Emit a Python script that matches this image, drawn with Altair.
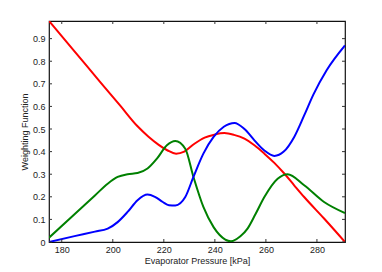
import altair as alt
import pandas as pd

# Data
red_x = [175, 185, 195, 203, 209.7, 214, 218, 221.5, 224.8, 228, 232, 236, 239.8, 243.7, 247.5, 251.6, 255.5, 259.4, 263.3, 267.2, 271, 275, 282.8, 291]
red_y = [0.978, 0.844, 0.709, 0.602, 0.512, 0.466, 0.430, 0.405, 0.391, 0.400, 0.435, 0.462, 0.475, 0.482, 0.474, 0.457, 0.428, 0.391, 0.350, 0.303, 0.252, 0.199, 0.104, 0.0]

green_x = [175, 185, 193, 198, 201.9, 205.8, 209.7, 213.6, 217.3, 221.2, 224.5, 228.4, 231.6, 235.5, 239.5, 241.8, 246.3, 250, 252.8, 256, 259.4, 264.6, 268.5, 275, 282.8, 291]
green_y = [0.019, 0.123, 0.206, 0.258, 0.288, 0.300, 0.305, 0.325, 0.369, 0.428, 0.447, 0.413, 0.288, 0.155, 0.066, 0.032, 0.003, 0.025, 0.059, 0.125, 0.199, 0.280, 0.300, 0.251, 0.177, 0.128]

blue_x = [175, 185, 193, 198, 201.9, 205.8, 209.7, 213.6, 216.5, 219.6, 222, 224.5, 228.4, 231.6, 235.5, 239.5, 243.5, 247.7, 251.6, 255.5, 259.4, 263.3, 267, 271.1, 275, 278.6, 283.8, 291]
blue_y = [0.0, 0.026, 0.046, 0.059, 0.088, 0.133, 0.185, 0.210, 0.200, 0.177, 0.163, 0.162, 0.199, 0.288, 0.391, 0.465, 0.510, 0.527, 0.500, 0.450, 0.405, 0.381, 0.400, 0.465, 0.560, 0.652, 0.760, 0.870]

x_ticks = [180, 200, 220, 240, 260, 280]
y_ticks = [0, 0.1, 0.2, 0.3, 0.4, 0.5, 0.6, 0.7, 0.8, 0.9]

X_DOMAIN = [175, 291]
Y_DOMAIN = [0, 0.978]
W, H = 296, 221

rows = []
for name, xs, ys in [("red", red_x, red_y), ("green", green_x, green_y), ("blue", blue_x, blue_y)]:
    for i, (a, b) in enumerate(zip(xs, ys)):
        rows.append({"series": name, "x": a, "y": b, "order": i})
df = pd.DataFrame(rows)

FONT = "Liberation Sans"

xscale = alt.Scale(domain=X_DOMAIN, nice=False, zero=False)
yscale = alt.Scale(domain=Y_DOMAIN, nice=False, zero=True)

xaxis = alt.Axis(values=x_ticks, title="Evaporator Pressure [kPa]", ticks=False, domain=False,
                 grid=False, labelFont=FONT, labelFontSize=9, labelColor="#222",
                 titleFont=FONT, titleFontSize=9, titleFontWeight="normal", titleColor="#222",
                 labelPadding=3, titlePadding=2, labelOverlap=False, labelFlush=False)
yaxis = alt.Axis(values=y_ticks, title="Weighting Function", ticks=False, domain=False,
                 grid=False, labelFont=FONT, labelFontSize=9, labelColor="#222",
                 titleFont=FONT, titleFontSize=9, titleFontWeight="normal", titleColor="#222",
                 labelPadding=4, titlePadding=3, labelOverlap=False, labelFlush=False,
                 labelExpr="datum.value == 0 ? '0' : format(datum.value, '.1f')")

lines = alt.Chart(df).mark_line(strokeWidth=2, interpolate="monotone", clip=True).encode(
    x=alt.X("x:Q", scale=xscale, axis=xaxis),
    y=alt.Y("y:Q", scale=yscale, axis=yaxis),
    color=alt.Color("series:N", scale=alt.Scale(domain=["red", "green", "blue"], range=["#ff0000", "#008000", "#0000ff"]), legend=None),
    order="order:Q",
    detail="series:N",
)

xt = pd.DataFrame({"x": x_ticks})
yt = pd.DataFrame({"y": y_ticks})
tick_color = "#333"
bottom_ticks = alt.Chart(xt).mark_rule(color=tick_color, strokeWidth=1).encode(
    x=alt.X("x:Q", scale=xscale, axis=xaxis), y=alt.value(H), y2=alt.value(H - 3))
top_ticks = alt.Chart(xt).mark_rule(color=tick_color, strokeWidth=1).encode(
    x=alt.X("x:Q", scale=xscale, axis=xaxis), y=alt.value(0), y2=alt.value(3))
left_ticks = alt.Chart(yt).mark_rule(color=tick_color, strokeWidth=1).encode(
    y=alt.Y("y:Q", scale=yscale, axis=yaxis), x=alt.value(0), x2=alt.value(3))
right_ticks = alt.Chart(yt).mark_rule(color=tick_color, strokeWidth=1).encode(
    y=alt.Y("y:Q", scale=yscale, axis=yaxis), x=alt.value(W), x2=alt.value(W - 3))

chart = alt.layer(lines, bottom_ticks, top_ticks, left_ticks, right_ticks).properties(
    width=W, height=H,
    autosize=alt.AutoSizeParams(type="none"),
    padding={"left": 41, "top": 13, "right": 29, "bottom": 28},
).configure(background="white").configure_view(stroke="#111", strokeWidth=1.2)

chart.save("out.html", embed_options={"renderer": "svg", "actions": False})
